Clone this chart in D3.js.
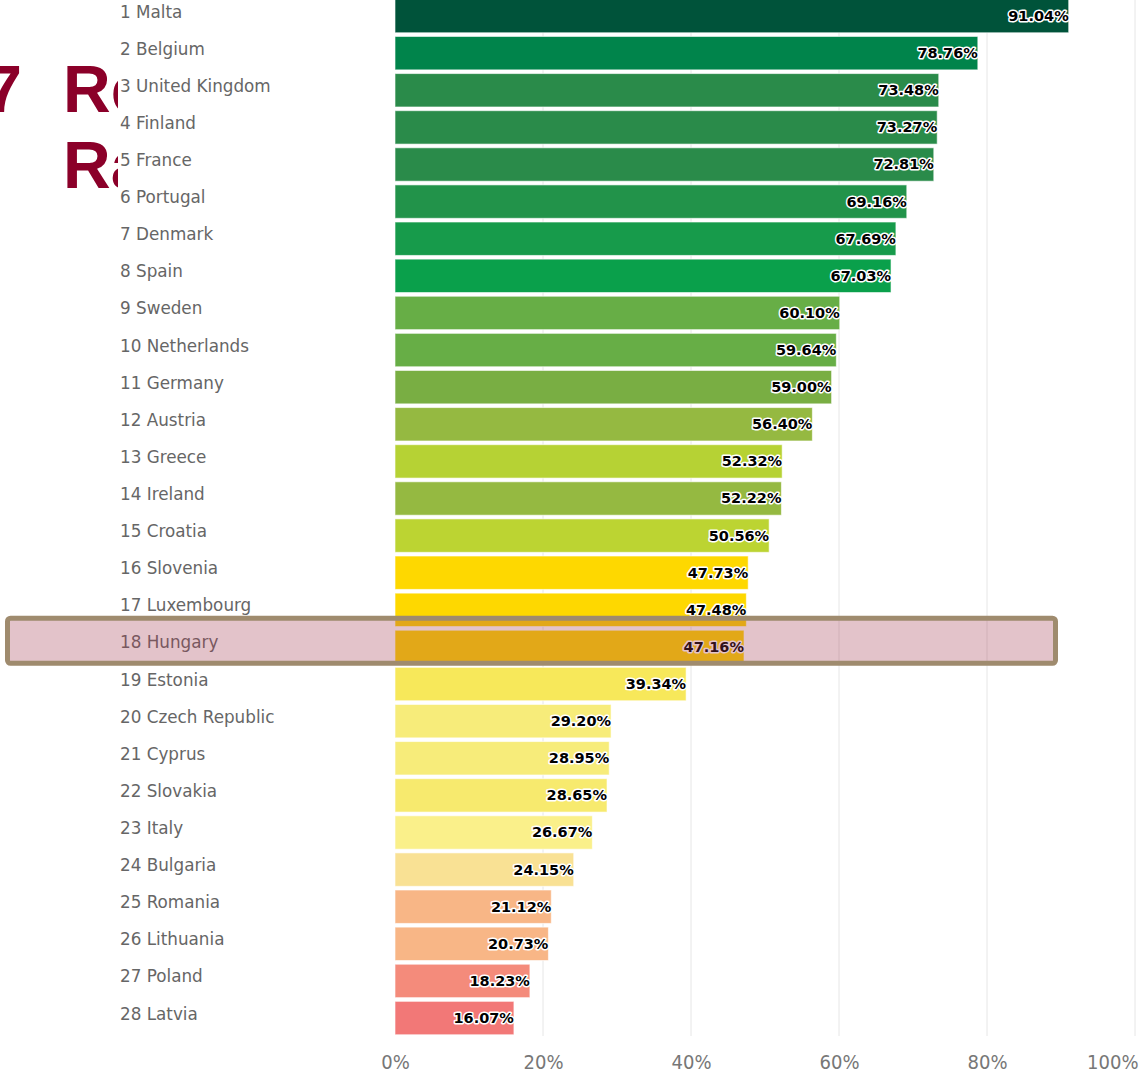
<!DOCTYPE html>
<html>
<head>
<meta charset="utf-8">
<script src="https://cdn.jsdelivr.net/npm/d3@7"></script>
<style>
  html, body { margin: 0; padding: 0; background: #fff; }
  svg { display: block; }
</style>
</head>
<body>
<svg id="chart" width="1144" height="1080"></svg>
<script>
// Recycling rate by EU member state, ranked
const countries = [
  "Malta", "Belgium", "United Kingdom", "Finland", "France", "Portugal", "Denmark",
  "Spain", "Sweden", "Netherlands", "Germany", "Austria", "Greece", "Ireland",
  "Croatia", "Slovenia", "Luxembourg", "Hungary", "Estonia", "Czech Republic",
  "Cyprus", "Slovakia", "Italy", "Bulgaria", "Romania", "Lithuania", "Poland", "Latvia"
];
const rates = [
  91.04, 78.76, 73.48, 73.27, 72.81, 69.16, 67.69,
  67.03, 60.10, 59.64, 59.00, 56.40, 52.32, 52.22,
  50.56, 47.73, 47.48, 47.16, 39.34, 29.20,
  28.95, 28.65, 26.67, 24.15, 21.12, 20.73, 18.23, 16.07
];
const barColors = [
  "#00533a", "#00844b", "#2a8b4a", "#2a8b4a", "#2a8b4a", "#22934a", "#179b4b",
  "#0aa04b", "#67ae46", "#67ae46", "#79ae43", "#95b941", "#b6d234", "#95b941",
  "#bcd432", "#fed800", "#fed800", "#fed800", "#f7e85a", "#f7ec7a",
  "#f7ec7a", "#f7ea6e", "#faf08a", "#f9e194", "#f8b686", "#f8b686", "#f48b7b", "#f27877"
];
const xTicks = [0, 20, 40, 60, 80, 100];
const highlighted = "Hungary";
const titleLines = ["2017 Recycling", "Rate"];

const svg = d3.select("#chart");
const W = 1144;

const labels = countries.map((c, i) => `${i + 1} ${c}`);

const x = d3.scaleLinear().domain([0, 100]).range([395, 1135]);
const y = d3.scaleBand().domain(labels).range([-2.5, 1036.6]).paddingInner(0.1).paddingOuter(0.05);

// Title, partly hidden behind the category label column
const clip = svg.append("clipPath").attr("id", "titleClip");
clip.append("rect").attr("x", 0).attr("y", 0).attr("width", 118).attr("height", 300);
const title = svg.append("g").attr("clip-path", "url(#titleClip)")
  .style("font-family", "'Liberation Sans', Arial, sans-serif")
  .style("font-weight", "bold").style("font-size", "66px").attr("fill", "#8b0029");
const firstWords = titleLines[0].split(" ");
title.append("text").attr("x", 22).attr("y", 112).attr("text-anchor", "end").text(firstWords[0]);
title.append("text").attr("x", 63).attr("y", 112).text(firstWords.slice(1).join(" "));
title.append("text").attr("x", 63).attr("y", 188).text(titleLines[1]);

// Vertical grid lines
svg.append("g").selectAll("line")
  .data(xTicks.filter(t => t > 0))
  .join("line")
  .attr("x1", d => x(d)).attr("x2", d => x(d))
  .attr("y1", 0).attr("y2", 1036)
  .attr("stroke", "#e6e6e6").attr("stroke-width", 1);

// Bars
const rows = countries.map((c, i) => ({ country: c, label: labels[i], value: rates[i], color: barColors[i] }));
svg.append("g").selectAll("rect")
  .data(rows)
  .join("rect")
  .attr("x", x(0))
  .attr("y", d => y(d.label))
  .attr("width", d => x(d.value) - x(0))
  .attr("height", y.bandwidth())
  .attr("fill", d => d.color)
  .attr("stroke", "#ffffff").attr("stroke-opacity", 0.6).attr("stroke-width", 1);

// Category labels
svg.append("g").selectAll("text")
  .data(rows)
  .join("text")
  .attr("x", 120)
  .attr("y", d => y(d.label) + y.bandwidth() / 2 + 1.5)
  .style("font-family", "'DejaVu Sans', sans-serif")
  .style("font-size", "16.8px")
  .attr("fill", "#666666")
  .text(d => d.label);

// Value labels with white halo
svg.append("g").selectAll("text")
  .data(rows)
  .join("text")
  .attr("x", d => x(d.value))
  .attr("y", d => y(d.label) + y.bandwidth() / 2 + 5)
  .attr("text-anchor", "end")
  .style("font-family", "'DejaVu Sans', sans-serif")
  .style("font-weight", "bold")
  .style("font-size", "14.5px")
  .attr("fill", "#000")
  .attr("stroke", "#fff").attr("stroke-width", 3).attr("stroke-linejoin", "round")
  .attr("paint-order", "stroke")
  .text(d => d.value.toFixed(2) + "%");

// X axis labels
const xAxis = d3.axisBottom(x).tickValues(xTicks).tickFormat(d => d + "%").tickSize(0);
const axisG = svg.append("g").attr("transform", "translate(0,1052)").call(xAxis);
axisG.select(".domain").remove();
axisG.selectAll("text")
  .style("font-family", "'DejaVu Sans Condensed', 'DejaVu Sans', sans-serif")
  .style("font-size", "20px")
  .attr("fill", "#777777")
  .attr("dy", "0.71em");
axisG.selectAll(".tick").filter(d => d === 100).select("text")
  .attr("text-anchor", "end").attr("x", W - 6 - x(100));

// Highlight frame around the selected country
const hl = rows.find(r => r.country === highlighted);
svg.append("rect")
  .attr("x", 7.5)
  .attr("y", y(hl.label) - 12)
  .attr("width", 1048)
  .attr("height", 45)
  .attr("rx", 3)
  .attr("fill", "rgba(162,55,78,0.3)")
  .attr("stroke", "#9f8b6e")
  .attr("stroke-width", 5);
</script>
</body>
</html>
